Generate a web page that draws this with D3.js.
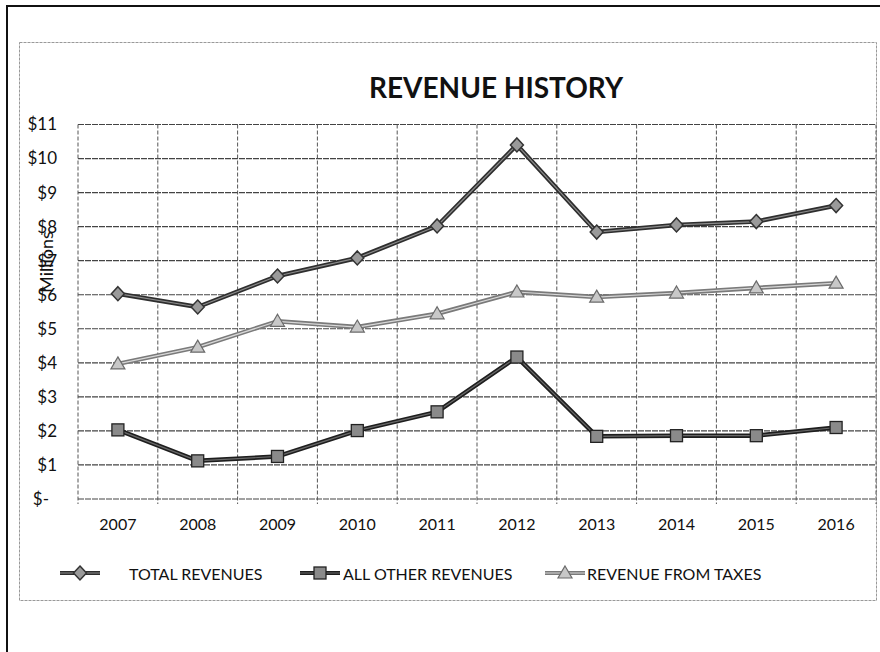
<!DOCTYPE html>
<html>
<head>
<meta charset="utf-8">
<script src="https://cdn.jsdelivr.net/npm/d3@7"></script>
<style>
  html, body { margin: 0; padding: 0; background: #fff; }
  svg { display: block; }
  text { font-family: Lato, "Open Sans", sans-serif; fill: #111; }
</style>
</head>
<body>
<svg id="chart" width="880" height="652"></svg>
<script>
// ---- data ----
const years = ["2007","2008","2009","2010","2011","2012","2013","2014","2015","2016"];
const totalRevenues = [6.03, 5.64, 6.55, 7.08, 8.02, 10.40, 7.84, 8.05, 8.15, 8.62];
const otherRevenues = [2.03, 1.12, 1.25, 2.01, 2.56, 4.17, 1.84, 1.86, 1.86, 2.10];
const taxRevenues   = [3.97, 4.46, 5.22, 5.05, 5.44, 6.08, 5.93, 6.05, 6.20, 6.34];
const yTickValues = [0,1,2,3,4,5,6,7,8,9,10,11];
const yTickLabels = ["$-","$1","$2","$3","$4","$5","$6","$7","$8","$9","$10","$11"];
const seriesNames = ["TOTAL REVENUES","ALL OTHER REVENUES","REVENUE FROM TAXES"];
const titleText = "REVENUE HISTORY";
const yTitle = "Millions";

const svg = d3.select("#chart");

// outer scan frame
svg.append("line").attr("x1",7).attr("x2",7).attr("y1",5).attr("y2",652)
  .attr("stroke","#111").attr("stroke-width",2);
svg.append("line").attr("x1",7).attr("x2",880).attr("y1",6).attr("y2",6)
  .attr("stroke","#111").attr("stroke-width",2);

// chart area border
svg.append("rect").attr("x",19.5).attr("y",42.5).attr("width",857).attr("height",558)
  .attr("fill","none").attr("stroke","#999").attr("stroke-width",1).attr("stroke-dasharray","3,1");

// title
svg.append("text").attr("x",496).attr("y",98).attr("text-anchor","middle")
  .style("font-size","28px").style("font-weight","bold").text(titleText);

const plot = {left:78, right:876, top:124.5, bottom:499};
const x = d3.scaleBand().domain(years).range([plot.left, plot.right]);
const y = d3.scaleLinear().domain([0,11]).range([plot.bottom, plot.top]);
const cx = d => x(d) + x.bandwidth()/2;

// horizontal grid
const g = svg.append("g");
g.selectAll("line.h").data(yTickValues).enter().append("line")
  .attr("x1",plot.left).attr("x2",plot.right)
  .attr("y1",d=>y(d)).attr("y2",d=>y(d))
  .attr("stroke","#444").attr("stroke-width",1.2).attr("stroke-dasharray","6,1");
// vertical grid at category boundaries
const bounds = years.map(d=>x(d)).concat([plot.right]);
g.selectAll("line.v").data(bounds).enter().append("line")
  .attr("x1",d=>d).attr("x2",d=>d)
  .attr("y1",plot.top).attr("y2",plot.bottom+5)
  .attr("stroke","#555").attr("stroke-width",1).attr("stroke-dasharray","4,2");

// y axis labels
const yAxis = d3.axisLeft(y).tickValues(yTickValues)
  .tickFormat((d,i)=>yTickLabels[i]).tickSize(0).tickPadding(21);
const ya = svg.append("g").attr("transform",`translate(${plot.left},0)`).call(yAxis);
ya.select(".domain").remove();
ya.selectAll("text").style("font-size","17px").style("font-family","Lato, sans-serif").attr("fill","#111");
ya.selectAll("text").filter((d)=>d===0).attr("dx",-8);

// x axis labels
const xAxis = d3.axisBottom(x).tickSize(0).tickPadding(20);
const xa = svg.append("g").attr("transform",`translate(0,${plot.bottom})`).call(xAxis);
xa.select(".domain").remove();
xa.selectAll("text").style("font-size","16px").style("font-family","Lato, sans-serif").attr("fill","#111");

// y title
svg.append("text").attr("transform","translate(46,262) rotate(-90)")
  .attr("text-anchor","middle").attr("dominant-baseline","central")
  .style("font-size","18px").text(yTitle);

// series
const styles = [
  {data: totalRevenues, outer:"#2e2e2e", inner:"#8c8c8c", shape:"diamond", fill:"#9a9a9a", mstroke:"#333"},
  {data: otherRevenues, outer:"#1e1e1e", inner:"#6a6a6a", shape:"square", fill:"#8a8a8a", mstroke:"#222"},
  {data: taxRevenues,   outer:"#7a7a7a", inner:"#d8d8d8", shape:"triangle", fill:"#c8c8c8", mstroke:"#6a6a6a"}
];
const line = d3.line().x((d,i)=>cx(years[i])).y(d=>y(d));

function marker(sel, shape, fill, stroke, px, py){
  if(shape==="diamond"){
    sel.append("path").attr("d",`M${px},${py-7}L${px+6.5},${py}L${px},${py+7}L${px-6.5},${py}Z`)
      .attr("fill",fill).attr("stroke",stroke).attr("stroke-width",1.5);
  } else if(shape==="square"){
    sel.append("rect").attr("x",px-6).attr("y",py-6).attr("width",12).attr("height",12)
      .attr("fill",fill).attr("stroke",stroke).attr("stroke-width",1.3);
  } else {
    sel.append("path").attr("d",`M${px},${py-7}L${px+7},${py+5}L${px-7},${py+5}Z`)
      .attr("fill",fill).attr("stroke",stroke).attr("stroke-width",1.2);
  }
}

styles.forEach(s=>{
  const gs = svg.append("g");
  gs.append("path").datum(s.data).attr("d",line).attr("fill","none")
    .attr("stroke",s.outer).attr("stroke-width",4.5).attr("stroke-linejoin","round");
  gs.append("path").datum(s.data).attr("d",line).attr("fill","none")
    .attr("stroke",s.inner).attr("stroke-width",1.2).attr("stroke-linejoin","round");
  s.data.forEach((v,i)=> marker(gs, s.shape, s.fill, s.mstroke, cx(years[i]), y(v)));
});

// legend
const legendItems = [
  {sx:60, tx:129},
  {sx:300, tx:343},
  {sx:545, tx:587}
];
const ly = 573;
legendItems.forEach((l,i)=>{
  const s = styles[i];
  const gl = svg.append("g");
  gl.append("line").attr("x1",l.sx).attr("x2",l.sx+40).attr("y1",ly).attr("y2",ly)
    .attr("stroke",s.outer).attr("stroke-width",4);
  gl.append("line").attr("x1",l.sx).attr("x2",l.sx+40).attr("y1",ly).attr("y2",ly)
    .attr("stroke",s.inner).attr("stroke-width",1.2);
  marker(gl, s.shape, s.fill, s.mstroke, l.sx+20, ly);
  gl.append("text").attr("x",l.tx).attr("y",ly).attr("dominant-baseline","central")
    .style("font-size","16px").text(seriesNames[i]);
});
</script>
</body>
</html>
